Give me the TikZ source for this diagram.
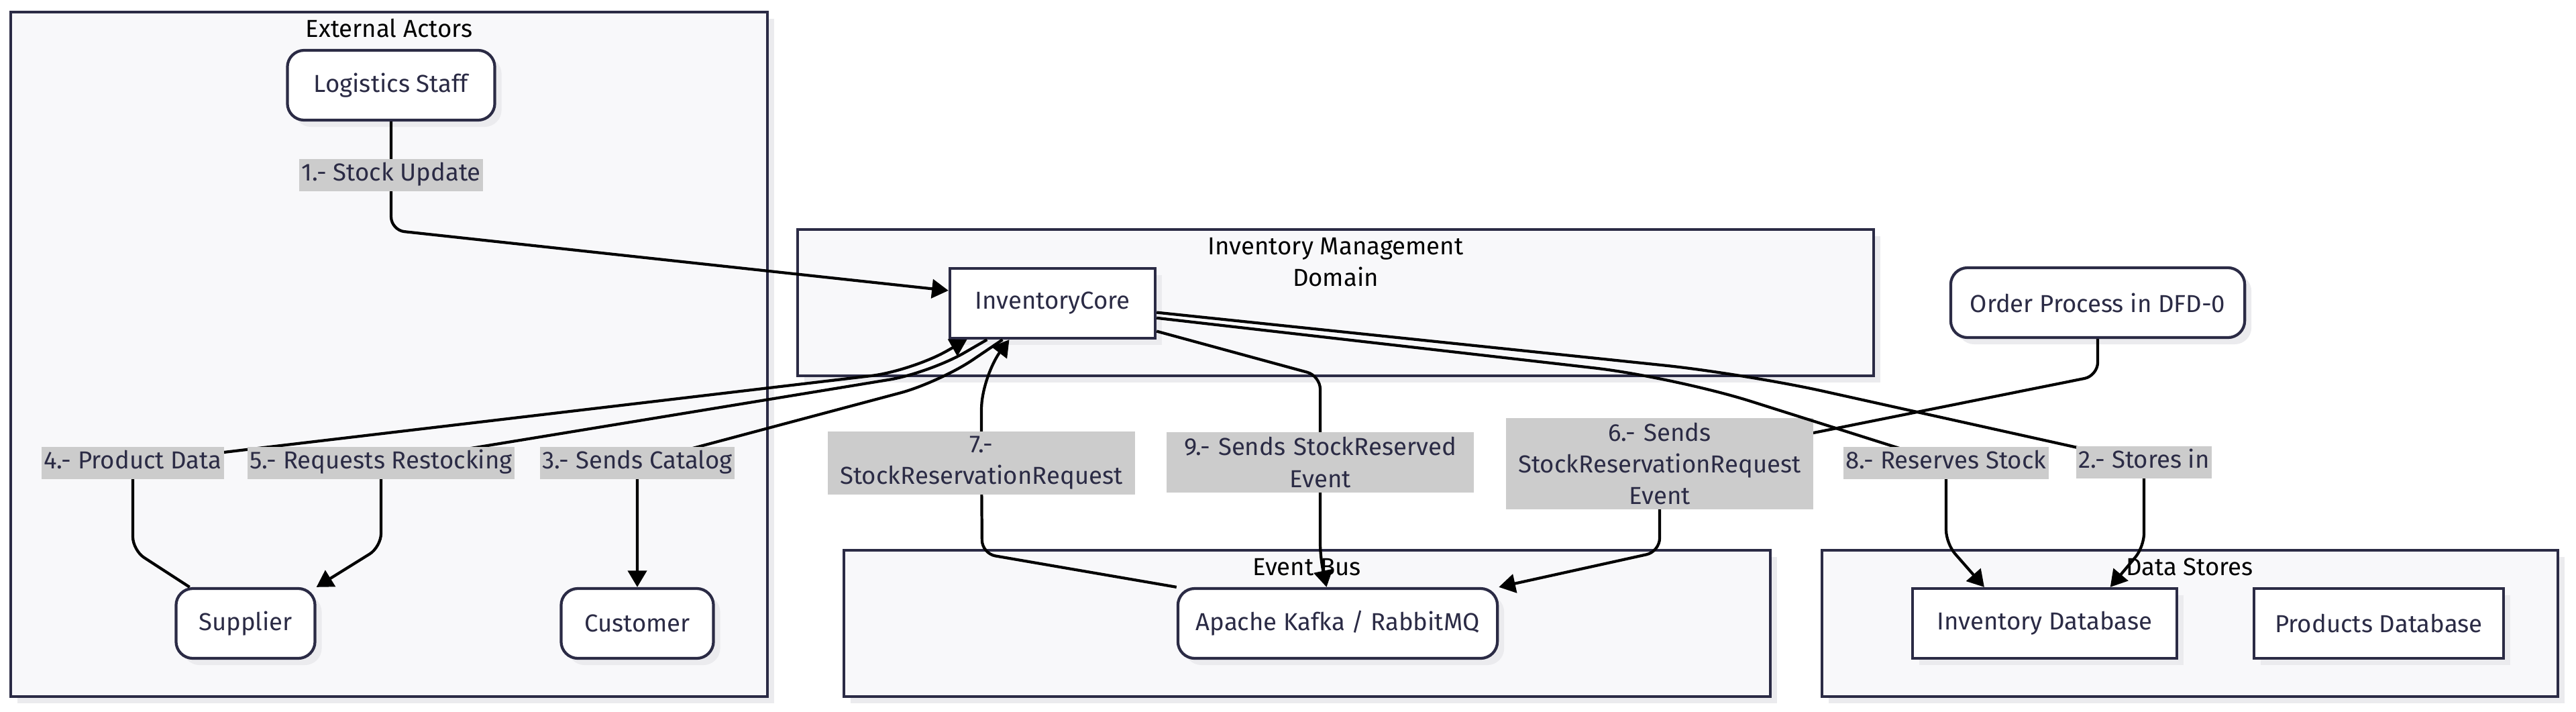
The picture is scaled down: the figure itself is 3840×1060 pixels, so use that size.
\documentclass[tikz,border=0pt]{standalone}
\usepackage{fontspec}
\setmainfont{Fira Sans}
\usepackage{xcolor}
\usetikzlibrary{arrows.meta, shadows}

\definecolor{navy}{HTML}{2B2B45}
\definecolor{clusterfill}{HTML}{F8F8FA}
\definecolor{labelgray}{HTML}{CCCCCC}
\definecolor{shadowgray}{HTML}{EBEBEE}

\tikzset{
    >={Triangle[length=7pt, width=8pt]},            % filled arrow heads
    every node/.style={font=\fontsize{10.4}{13.4}\selectfont, text=navy},
    boxshadow/.style={drop shadow={shadow xshift=0.1cm, shadow yshift=-0.1cm, fill=shadowgray, opacity=1}},
    process/.style={draw=navy, line width=1.2pt, fill=white, minimum height=1.04cm, boxshadow},  % square boxes
    actor/.style={process, rounded corners=0.25cm}, % rounded boxes
    cluster/.style={draw=navy, line width=1pt, fill=clusterfill, boxshadow},
    clustertitle/.style={text=black},
    flow/.style={->, line width=1.2pt, rounded corners=0.2cm},
    lbl/.style={fill=labelgray, inner xsep=1pt, sharp corners},
    flowlabel/.style={lbl, text height=8pt, text depth=3pt, inner ysep=1.2pt},
    widelabel/.style={lbl, text width=4.5cm, align=center, inner ysep=2pt},
}

\begin{document}
\begin{tikzpicture}[x=0.01cm, y=-0.01cm]

\fill[white] (0,0) rectangle (3840,1060);
\useasboundingbox (0,0) rectangle (3840,1060);

% groups
\draw[cluster] (16,18) rectangle (1144,1038);
\node[clustertitle] (extT) at (580,42) {External Actors};
\draw[cluster] (1189,342) rectangle (2793,560);
\node[clustertitle, align=center] (domT) at (1991,391) {Inventory Management\\Domain};
\draw[cluster] (1258,820) rectangle (2639,1038);
\node[clustertitle] (busT) at (1948,845) {Event Bus};
\draw[cluster] (2716,820) rectangle (3813,1038);
\node[clustertitle] (dsT) at (3264,845) {Data Stores};

\node[actor, minimum width=3.09cm] (ls) at (583,127) {Logistics Staff};
\node[process, minimum width=3.06cm] (ic) at (1569,452) {InventoryCore};
\node[actor, minimum width=4.38cm] (op) at (3127,451) {Order Process in DFD-0};
\node[actor, minimum width=2.07cm] (sup) at (366,929) {Supplier};
\node[actor, minimum width=2.27cm] (cus) at (950,929) {Customer};
\node[actor, minimum width=4.76cm] (mq) at (1994,929) {Apache Kafka / RabbitMQ};
\node[process, minimum width=3.94cm] (idb) at (3048,929) {Inventory Database};
\node[process, minimum width=3.72cm] (pdb) at (3546,929) {Products Database};

\draw[flow] (ls.south) -- (583,261) node[flowlabel] {1.- Stock Update} -- (583,343) -- (ic.173);
\draw[flow] (ic.-5) [rounded corners=1.2cm] -- (2601,557) [rounded corners=0.2cm] -- (3196,689) node[flowlabel] {2.- Stores in} -- (3196,815) -- (idb.29);
\draw[flow] (ic.-144) [rounded corners=0.6cm] -- (1400,570) [rounded corners=0.2cm] -- (950,690) node[flowlabel] {3.- Sends Catalog} -- (cus.north);
\draw[flow] (sup.147) -- (198,820) -- (198,690) node[flowlabel] {4.- Product Data} [rounded corners=0.6cm] -- (1358,553) [rounded corners=0.2cm] -- (ic.-157);
\draw[flow] (ic.-151) [rounded corners=0.6cm] -- (1385,556) [rounded corners=0.2cm] -- (568,690) node[flowlabel] {5.- Requests Restocking} -- (568,815) -- (sup.north east);
\draw[flow] (op.south) -- (3127,560) -- (2474,691) node[widelabel] {6.- Sends\\StockReservationRequest\\Event} -- (2474,822) -- (mq.north east);
\draw[flow] (mq.north west) -- (1464,825) -- (1463,690) node[widelabel] {7.-\\StockReservationRequest} [rounded corners=0.5cm] -- (1463,560) [rounded corners=0.2cm] -- (ic.-140);
\draw[flow] (ic.-8) [rounded corners=1.2cm] -- (2496,562) [rounded corners=0.2cm] -- (2901,690) node[flowlabel] {8.- Reserves Stock} -- (2901,810) -- (idb.149);
\draw[flow] (ic.-15) -- (1968,560) -- (1968,689) node[widelabel] {9.- Sends StockReserved\\Event} -- (1968,830) -- (mq.107);

\end{tikzpicture}
\end{document}
